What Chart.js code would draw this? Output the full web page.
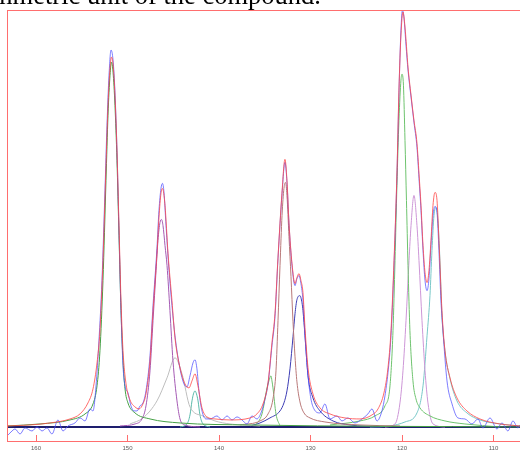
<!DOCTYPE html>
<html>
<head>
<meta charset="utf-8">
<script src="https://cdn.jsdelivr.net/npm/chart.js@4.4.1/dist/chart.umd.min.js"></script>
<style>
  html, body { margin: 0; padding: 0; background: #fff; overflow: hidden; }
  #wrap { position: relative; width: 520px; height: 450px; overflow: hidden; }
  #cap { position: absolute; right: 199px; top: -18px; font: 26.5px/26.5px "Liberation Serif", "Times New Roman", serif; color: #000; white-space: nowrap; }
  canvas { position: absolute; left: 0; top: 0; }
</style>
</head>
<body>
<div id="wrap">
  <canvas id="c" width="520" height="450"></canvas>
  <div id="cap">asymmetric unit of the compound.</div>
</div>
<script>
// x in ppm, y in arbitrary intensity
const X_MIN = 107.1, X_MAX = 163.17;
const TICKS = [160, 150, 140, 130, 120, 110];

// experimental spectrum (blue)
const EXP = [[163.17,-9],[162.73,-5],[162.29,-2],[161.75,-7],[161.2,-1],[160.44,-4],[159.89,0],[159.34,-4],[158.8,-1],[158.25,-7],
  [157.6,7],[157.05,-4],[156.5,1],[155.74,4],[155.19,9],[154.64,6],[154.1,18],[153.77,16],[153.44,41],[153.12,86],[152.79,146],
  [152.46,236],[152.24,301],[152.02,351],[151.8,376],[151.58,366],[151.37,334],[151.15,276],[150.93,196],[150.71,116],[150.49,61],
  [150.27,41],[149.95,34],[149.62,21],[149.29,16],[148.96,16],[148.63,21],[148.31,24],[147.98,36],[147.54,71],[147.21,121],
  [146.78,178],[146.56,216],[146.34,238],[146.18,243],[146.01,234],[145.79,201],[145.46,156],[145.14,121],[144.81,91],[144.26,58],
  [143.83,43],[143.5,40],[143.17,51],[142.84,64],[142.62,67],[142.41,58],[142.19,36],[141.86,16],[141.42,8],[140.98,8],[140.22,11],
  [139.67,7],[139.12,11],[138.58,7],[138.03,10],[137.49,7],[136.94,3],[136.39,11],[135.85,8],[135.41,14],[134.97,28],[134.64,43],
  [134.21,81],[133.88,110],[133.55,168],[133.12,231],[132.79,264],[132.57,244],[132.35,203],[132.02,161],[131.69,141],[131.48,148],
  [131.26,151],[131.04,143],[130.82,126],[130.6,91],[130.27,51],[129.95,28],[129.62,18],[128.96,14],[128.42,23],[127.87,8],
  [127.1,11],[126.56,6],[125.9,9],[125.14,4],[124.37,8],[123.72,13],[123.28,18],[122.73,6],[122.19,16],[121.86,31],[121.53,54],
  [121.2,91],[120.87,161],[120.54,254],[120.33,334],[120.11,396],[119.95,416],[119.78,408],[119.56,381],[119.34,356],[119.01,329],
  [118.69,304],[118.36,279],[118.14,248],[117.92,216],[117.7,176],[117.48,146],[117.26,136],[117.05,148],[116.83,181],[116.61,211],
  [116.39,220],[116.17,214],[115.96,176],[115.74,126],[115.52,96],[115.08,46],[114.53,23],[113.88,9],[113.12,8],[112.35,3],
  [111.7,8],[111.15,-1],[110.38,9],[109.62,-2],[109.07,4],[108.42,-4],[107.87,6],[107.32,-1],[107.1,2]];

// fitted sum (red)
const FIT = [[163.17,1],[160.66,2],[158.47,4],[156.28,8],[155.19,13],[154.32,24],[153.77,38],[153.33,64],[153.01,96],[152.68,166],
  [152.35,261],[152.13,321],[151.91,358],[151.75,369],[151.58,362],[151.37,331],[151.15,276],[150.93,201],[150.71,126],[150.49,76],
  [150.16,43],[149.73,27],[149.18,20],[148.74,18],[148.31,23],[147.98,33],[147.54,66],[147.21,116],[146.78,173],[146.56,209],
  [146.34,233],[146.18,238],[145.9,221],[145.57,173],[145.14,126],[144.81,89],[144.26,59],[143.72,43],[143.28,39],[142.95,46],
  [142.62,53],[142.3,41],[141.86,19],[141.31,10],[140.44,8],[138.8,7],[136.61,9],[135.85,13],[135.19,23],[134.64,44],[134.21,84],
  [133.88,113],[133.55,169],[133.12,233],[132.79,267],[132.57,246],[132.35,204],[132.02,163],[131.69,143],[131.48,149],[131.26,153],
  [131.04,146],[130.82,134],[130.6,99],[130.27,59],[129.73,33],[128.96,19],[127.87,13],[126.23,9],[124.59,8],[123.28,12],
  [122.62,18],[121.97,34],[121.53,59],[121.2,96],[120.87,166],[120.54,256],[120.33,336],[120.11,391],[119.89,414],[119.67,399],
  [119.34,359],[119.01,331],[118.69,306],[118.36,283],[118.14,253],[117.92,221],[117.7,181],[117.48,154],[117.26,144],[117.05,156],
  [116.83,186],[116.61,221],[116.39,234],[116.17,226],[115.96,186],[115.63,116],[115.3,76],[114.75,49],[113.99,29],[112.9,16],
  [111.48,8],[109.29,3],[107.1,1]];

// fitted components
const C1 = [[163.17,1],[159.56,3],[156.28,7],[154.64,13],[153.77,23],[153.33,41],[153.01,76],[152.68,146],[152.35,246],[152.13,311],
  [151.91,351],[151.75,364],[151.58,354],[151.37,321],[151.15,266],[150.93,191],[150.71,116],[150.49,66],[150.27,38],[149.95,24],
  [149.18,14],[147.54,8],[144.26,4],[136.61,2],[107.1,0]];
const C2 = [[150.82,1],[149.18,3],[148.42,8],[147.98,21],[147.54,56],[147.21,106],[146.88,156],[146.67,186],[146.45,204],[146.28,207],
  [146.12,201],[145.9,181],[145.68,161],[145.36,116],[145.03,66],[144.59,26],[144.26,8],[143.72,2],[142.08,0]];
const C3 = [[149.73,3],[148.31,9],[146.78,26],[145.68,49],[144.81,69],[144.04,53],[143.17,20],[141.75,11],[140.44,6],[138.8,3],[135.52,1]];
const C4 = [[144.26,0],[143.5,3],[143.17,12],[142.95,26],[142.79,33],[142.62,36],[142.46,33],[142.29,26],[142.08,12],[141.75,3],[140.98,0]];
const C5 = [[137.71,2],[135.52,6],[134.64,13],[134.1,28],[133.77,56],[133.55,106],[133.33,161],[133.11,211],[132.9,238],[132.73,244],
  [132.57,231],[132.35,190],[132.13,150],[131.91,105],[131.69,70],[131.48,45],[131.15,25],[130.71,14],[130.05,9],[128.42,5],
  [124.59,2],[120.22,1]];
const C6 = [[136.07,1],[135.3,13],[134.75,39],[134.54,46],[134.32,51],[134.21,46],[134.1,39],[133.77,13],[133.33,1]];
const C7 = [[136.61,1],[135.52,4],[134.43,9],[133.33,16],[132.9,24],[132.57,36],[132.24,58],[131.91,90],[131.69,113],[131.48,127],
  [131.15,131],[130.93,124],[130.82,116],[130.6,91],[130.27,51],[129.73,29],[128.96,16],[127.54,6],[125.68,2],[122.4,0]];
const C8 = [[127.87,2],[124.59,6],[122.95,11],[121.86,21],[121.31,41],[120.98,96],[120.76,166],[120.55,241],[120.33,306],[120.11,346],
  [120.0,352],[119.84,341],[119.67,286],[119.51,226],[119.34,161],[119.13,96],[118.8,46],[118.47,28],[118.03,19],[116.94,11],
  [115.3,6],[113.12,3],[109.29,0]];
const C9 = [[121.86,0],[120.76,3],[120.22,24],[119.89,56],[119.56,106],[119.23,166],[119.01,201],[118.69,231],[118.36,201],[118.14,166],
  [117.81,106],[117.48,56],[117.16,24],[116.61,3],[115.3,0]];
const C10 = [[123.5,0],[121.31,1],[119.67,5],[118.36,14],[117.7,41],[117.26,91],[116.94,131],[116.72,176],[116.5,211],[116.28,219],
  [116.07,206],[115.85,166],[115.63,111],[115.3,76],[114.75,48],[113.99,26],[112.9,14],[111.48,7],[109.29,3],[107.1,1]];
const BASE = [[X_MAX,0],[X_MIN,0]];

function line(points, color, width) {
  return {
    data: points.map(p => ({ x: p[0], y: p[1] })),
    borderColor: color,
    borderWidth: width || 1,
    pointRadius: 0,
    fill: false,
    cubicInterpolationMode: 'monotone'
  };
}

const frame = {
  id: 'frame',
  afterDatasetsDraw(chart) {
    const ctx = chart.ctx, a = chart.chartArea, x = chart.scales.x;
    ctx.save();
    ctx.strokeStyle = 'rgb(255,110,110)';
    ctx.lineWidth = 1;
    ctx.strokeRect(a.left + 0.5, a.top + 0.5, a.right - a.left, a.bottom - a.top - 1);
    ctx.beginPath();
    TICKS.forEach(v => {
      const px = Math.round(x.getPixelForValue(v)) + 0.5;
      ctx.moveTo(px, a.bottom - 1);
      ctx.lineTo(px, a.bottom - 7);
    });
    ctx.stroke();
    ctx.restore();
  }
};

new Chart(document.getElementById('c'), {
  type: 'line',
  data: {
    datasets: [
      line(FIT, 'rgba(255,70,70,0.8)'),
      line(EXP, 'rgba(80,80,255,0.75)'),
      line(C1, 'rgb(70,160,70)'),
      line(C2, 'rgb(165,90,180)'),
      line(C3, 'rgb(190,190,190)'),
      line(C4, 'rgb(90,185,170)'),
      line(C5, 'rgb(185,120,120)'),
      line(C6, 'rgb(110,190,110)'),
      line(C7, 'rgb(60,60,180)'),
      line(C8, 'rgb(110,195,110)'),
      line(C9, 'rgb(205,150,215)'),
      line(C10, 'rgb(120,200,200)'),
      line(BASE, 'rgb(30,30,110)', 2)
    ]
  },
  options: {
    responsive: false,
    animation: false,
    devicePixelRatio: 1,
    layout: { padding: { left: 7, top: 10, right: 0, bottom: 0 } },
    plugins: { legend: { display: false }, tooltip: { enabled: false } },
    scales: {
      x: {
        type: 'linear',
        reverse: true,
        min: X_MIN,
        max: X_MAX,
        grid: { display: false, drawTicks: false },
        border: { display: false },
        afterBuildTicks: s => { s.ticks = TICKS.map(v => ({ value: v })); },
        afterFit: s => { s.height = 8; },
        ticks: {
          padding: 3,
          maxRotation: 0,
          autoSkip: false,
          color: 'rgb(90,90,90)',
          font: { family: 'Liberation Sans', size: 6 }
        }
      },
      y: { display: false, min: -15, max: 416 }
    }
  },
  plugins: [frame]
});
</script>
</body>
</html>
